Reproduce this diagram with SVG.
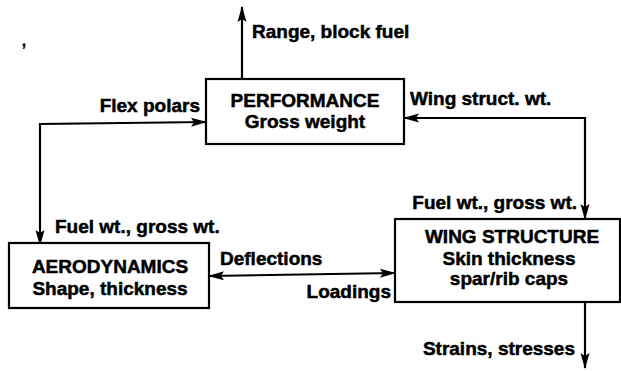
<svg xmlns="http://www.w3.org/2000/svg" width="621" height="371" viewBox="0 0 621 371">
<defs>
<style>
.box{fill:#fff;stroke:#000;stroke-width:2.2}
.ln{fill:none;stroke:#000;stroke-width:2.2;marker-end:url(#ah)}
.bi{marker-start:url(#ah)}
text{font-family:"Liberation Sans",Arial,sans-serif;font-weight:bold;font-size:19px;fill:#000;stroke:#000;stroke-width:0.5}
.c{text-anchor:middle}
.e{text-anchor:end}
</style>
<marker id="ah" markerUnits="userSpaceOnUse" viewBox="0 0 16 10" markerWidth="16" markerHeight="10" refX="15" refY="5" orient="auto-start-reverse">
<path d="M0,0.5 L16,5 L0,9.5 L3,5 z" fill="#000"/>
</marker>
</defs>
<rect width="621" height="371" fill="#fff"/>
<g id="connectors">
<path class="ln" d="M242,79 L242,7"/>
<path class="ln bi" d="M40,245 L40,124 L206,122"/>
<path class="ln bi" d="M404,118 L585,118 L585,219"/>
<path class="ln bi" d="M209,276 L395,273"/>
<path class="ln" d="M585,302 L585,368"/>
</g>
<g id="performance">
<rect class="box" x="206" y="79" width="198" height="65"/>
<text class="c" x="305" y="107">PERFORMANCE</text>
<text class="c" x="305" y="128">Gross weight</text>
</g>
<g id="aerodynamics">
<rect class="box" x="9" y="243" width="200" height="65"/>
<text class="c" x="110" y="273">AERODYNAMICS</text>
<text class="c" x="110" y="295">Shape, thickness</text>
</g>
<g id="wing-structure">
<rect class="box" x="395" y="219" width="225" height="83"/>
<text class="c" x="512" y="243">WING STRUCTURE</text>
<text class="c" x="509" y="265">Skin thickness</text>
<text class="c" x="509" y="285">spar/rib caps</text>
</g>
<g id="labels">
<text x="252" y="38">Range, block fuel</text>
<text class="e" x="200" y="112">Flex polars</text>
<text x="410" y="105">Wing struct. wt.</text>
<text x="55" y="233">Fuel wt., gross wt.</text>
<text class="e" x="577" y="209">Fuel wt., gross wt.</text>
<text x="220" y="265">Deflections</text>
<text class="e" x="391" y="298">Loadings</text>
<text class="e" x="575" y="355">Strains, stresses</text>
<text x="22" y="46" style="font-size:14px">,</text>
</g>
</svg>
